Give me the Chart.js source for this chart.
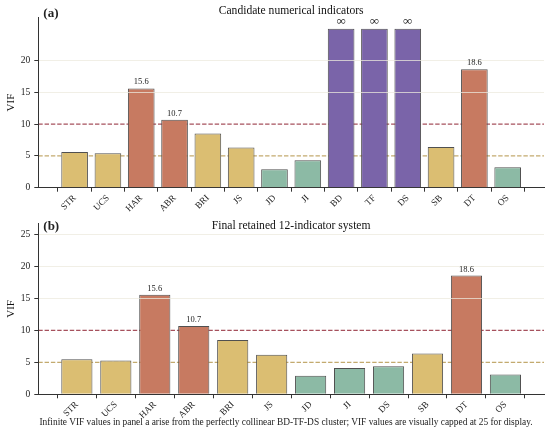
<!DOCTYPE html>
<html><head><meta charset="utf-8">
<script src="https://cdn.jsdelivr.net/npm/chart.js@4.4.1/dist/chart.umd.min.js"></script>
<style>
html,body{margin:0;padding:0;background:#fff;width:550px;height:435px;overflow:hidden}
#wa{position:absolute;left:0;top:0;width:550px;height:213px}
#wb{position:absolute;left:0;top:213px;width:550px;height:222px}
#note{position:absolute;left:0;width:550px;top:417px;text-align:center;font-family:"Liberation Serif",serif;font-size:9.4px;color:#222;white-space:nowrap;padding-left:22px;box-sizing:border-box}
</style></head>
<body>
<div id="wa"><canvas id="ca"></canvas></div>
<div id="wb"><canvas id="cb"></canvas></div>
<div id="note">Infinite VIF values in panel a arise from the perfectly collinear BD-TF-DS cluster; VIF values are visually capped at 25 for display.</div>
<script>
const labelsA = ['STR','UCS','HAR','ABR','BRI','JS','JD','JI','BD','TF','DS','SB','DT','OS'];
const vifA = [5.6,5.4,15.6,10.7,8.5,6.3,2.9,4.3,Infinity,Infinity,Infinity,6.4,18.6,3.2];
const labelsB = ['STR','UCS','HAR','ABR','BRI','JS','JD','JI','DS','SB','DT','OS'];
const vifB = [5.5,5.3,15.6,10.7,8.5,6.2,2.9,4.1,4.4,6.4,18.6,3.1];
const yTicksA = [0,5,10,15,20];
const yTicksB = [0,5,10,15,20,25];
const CAP = 25;
const SEVERE = 10;
const MODERATE = 5;

const FONT = '"Liberation Serif", "Times New Roman", serif';
const C = {inf:'#7a64a9', high:'#c77a61', mid:'#dbbe72', low:'#8cbaa5'};
function colorFor(v){
  if (v === Infinity) return C.inf;
  if (v >= SEVERE) return C.high;
  if (v >= MODERATE) return C.mid;
  return C.low;
}

const thresholdPlugin = {
  id:'thresholds',
  beforeDatasetsDraw(chart){
    const {ctx, chartArea:a, scales:{y}} = chart;
    const lines = [{v:SEVERE, c:'rgba(150,50,65,0.85)'},{v:MODERATE, c:'rgba(185,155,85,0.85)'}];
    ctx.save();
    ctx.lineWidth = 1.2;
    ctx.setLineDash([4.4,1.9]);
    lines.forEach(l=>{
      const py = y.getPixelForValue(l.v);
      ctx.strokeStyle = l.c;
      ctx.beginPath(); ctx.moveTo(a.left, py); ctx.lineTo(a.right, py); ctx.stroke();
    });
    ctx.restore();
  }
};
const valueLabelPlugin = {
  id:'valueLabels',
  afterDraw(chart){
    const {ctx} = chart;
    const raw = chart.options.plugins.valueLabels.raw;
    const meta = chart.getDatasetMeta(0);
    ctx.save();
    ctx.fillStyle = '#222';
    ctx.textAlign = 'center';
    ctx.textBaseline = 'alphabetic';
    meta.data.forEach((el,i)=>{
      const v = raw[i];
      if (v < SEVERE) return;
      if (v === Infinity){
        ctx.font = '13px ' + FONT;
        ctx.fillText('\u221E', el.x, el.y - 4);
      } else {
        ctx.font = '8.5px ' + FONT;
        ctx.fillText(v.toFixed(1), el.x, el.y - 4);
      }
    });
    const pl = chart.options.plugins.valueLabels;
    ctx.font = 'bold 13px ' + FONT;
    ctx.textAlign = 'left';
    ctx.fillText(pl.panel, chart.chartArea.left + 5, chart.chartArea.top + pl.panelDy);
    ctx.restore();
  }
};

function makePanel(id, labels, values, yTicks, o){
  const n = labels.length;
  const marg = (n - 1 + 0.8) * 0.05 + 0.4;
  return new Chart(document.getElementById(id), {
    type:'bar',
    data:{ datasets:[{
      data: values.map((v,i)=>({x:i, y:Math.min(v, CAP)})),
      backgroundColor: values.map(colorFor),
      borderColor:'#505050',
      borderWidth:1,
      barPercentage:0.8,
      categoryPercentage:1
    }]},
    plugins:[thresholdPlugin, valueLabelPlugin],
    options:{
      responsive:true, maintainAspectRatio:false, animation:false,
      layout:{padding:{left:0,right:6,top:0,bottom:0}},
      plugins:{
        legend:{display:false}, tooltip:{enabled:false},
        title:{display:true, text:o.title, fullSize:false, color:'#111',
          font:{family:FONT, size:11.6, weight:'normal', lineHeight:1.2},
          padding:{top:o.tPadTop, bottom:o.tPadBottom}},
        valueLabels:{raw:values, panel:o.panel, panelDy:o.panelDy}
      },
      scales:{
        x:{ type:'linear', min:-marg, max:n - 1 + marg, offset:false,
          afterBuildTicks:s=>{ s.ticks = labels.map((_,i)=>({value:i})); },
          afterFit:s=>{ s.height = o.xH; },
          grid:{drawOnChartArea:false, drawTicks:true, tickLength:4, color:'#333'},
          border:{display:true, color:'#333', width:1},
          ticks:{autoSkip:false, maxRotation:45, minRotation:45, padding:1, color:'#222',
            font:{family:FONT, size:9.2}, callback:v=>labels[v]}
        },
        y:{ type:'linear', min:0, max:26.75,
          afterBuildTicks:s=>{ s.ticks = yTicks.map(v=>({value:v})); },
          afterFit:s=>{ s.width = 38.3; },
          grid:{ z:1, color:c=> (c.tick && (c.tick.value===SEVERE || c.tick.value===MODERATE || c.tick.value===0)) ? 'rgba(0,0,0,0)' : 'rgba(236,234,222,0.75)',
            tickColor:'#333', tickLength:4, lineWidth:1},
          border:{display:true, color:'#333', width:1, z:2},
          ticks:{padding:4, color:'#222', font:{family:FONT, size:9.5}},
          title:{display:true, text:'VIF', color:'#111', font:{family:FONT, size:11}, padding:{top:5,bottom:0}}
        }
      }
    }
  });
}

makePanel('ca', labelsA, vifA, yTicksA, {title:'Candidate numerical indicators', tPadTop:4.3, tPadBottom:-0.7, xH:25.3, panel:'(a)', panelDy:-0.8});
makePanel('cb', labelsB, vifB, yTicksB, {title:'Final retained 12-indicator system', tPadTop:6.3, tPadBottom:-9.7, xH:40.7, panel:'(b)', panelDy:6.5});
</script>
</body></html>
